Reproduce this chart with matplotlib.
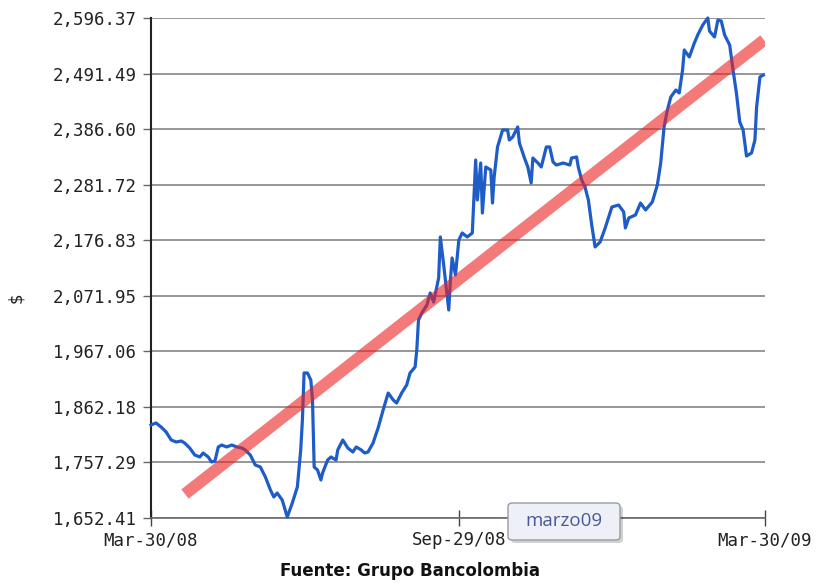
import matplotlib
matplotlib.use("Agg")
import matplotlib.pyplot as plt
from matplotlib.patches import FancyBboxPatch
from matplotlib.transforms import IdentityTransform

# ---- data (day offset from Mar-30/08, value in $) ----
days = [0, 3, 6, 9, 12, 15, 18, 20, 23, 26, 29, 31, 34, 36, 38, 40, 42, 45, 48, 51,
        54, 56, 59, 62, 65, 68, 71, 73, 75, 78, 81, 84, 87, 89, 90, 91, 93, 95, 96, 97,
        99, 101, 102, 105, 107, 110, 111, 114, 117, 120, 122, 125, 127, 129, 132, 135,
        138, 141, 144, 146, 149, 152, 154, 157, 158, 159, 161, 164, 166, 168, 171, 172,
        174, 177, 178, 179, 181, 183, 185, 188, 191, 192, 193, 194, 196, 197, 199, 202,
        203, 204, 206, 209, 212, 213, 215, 218, 219, 221, 222, 224, 226, 227, 230, 232,
        235, 237, 239, 241, 245, 249, 250, 253, 254, 256, 258, 260, 262, 264, 267, 270,
        274, 278, 281, 282, 284, 288, 291, 294, 298, 301, 303, 305, 307, 309, 312, 314,
        316, 317, 320, 323, 325, 328, 331, 332, 335, 337, 339, 341, 344, 346, 348, 350,
        352, 354, 357, 359, 360, 362, 364]
values = [1828.0, 1831.8, 1824.2, 1814.8, 1799.7, 1795.9, 1797.8, 1794.0, 1784.6, 1771.4,
          1767.6, 1775.1, 1767.6, 1758.1, 1760.0, 1786.5, 1790.2, 1786.5, 1790.2, 1786.5,
          1784.6, 1780.8, 1771.4, 1752.5, 1748.7, 1729.8, 1705.3, 1692.1, 1699.6, 1686.4,
          1654.3, 1680.8, 1711.0, 1780.8, 1837.4, 1926.2, 1926.2, 1913.0, 1875.2, 1748.7,
          1743.0, 1724.2, 1737.4, 1761.9, 1767.6, 1761.9, 1780.8, 1799.7, 1784.6, 1777.0,
          1786.5, 1780.8, 1775.1, 1777.0, 1794.0, 1822.3, 1856.3, 1888.4, 1875.2, 1869.5,
          1888.4, 1903.5, 1926.2, 1937.5, 1969.6, 2026.2, 2039.4, 2054.5, 2077.2, 2060.2,
          2105.5, 2183.0, 2130.0, 2045.1, 2101.7, 2143.3, 2111.2, 2177.3, 2190.5, 2183.0,
          2190.5, 2258.4, 2328.3, 2252.8, 2322.6, 2228.2, 2315.1, 2309.4, 2247.1, 2296.2,
          2352.9, 2384.9, 2384.9, 2366.0, 2371.7, 2390.6, 2360.4, 2341.5, 2332.1, 2315.1,
          2284.9, 2332.1, 2322.6, 2315.1, 2352.9, 2352.9, 2324.5, 2318.8, 2322.6, 2318.8,
          2332.1, 2334.0, 2315.1, 2290.5, 2277.3, 2252.8, 2205.6, 2164.1, 2173.5, 2200.0,
          2239.6, 2243.3, 2230.2, 2200.0, 2218.8, 2224.5, 2247.1, 2233.9, 2249.0, 2281.1,
          2322.6, 2390.6, 2422.7, 2447.2, 2460.4, 2454.8, 2498.2, 2536.0, 2522.8, 2549.2,
          2564.3, 2583.2, 2596.4, 2571.8, 2560.5, 2592.6, 2590.7, 2564.3, 2545.4, 2498.2,
          2454.8, 2400.0, 2384.9, 2335.8, 2341.5, 2366.0, 2428.3, 2485.0, 2488.8]

trend_days = [20.2, 364.4]
trend_values = [1697.7, 2554.8]

ytick_values = [1652.41, 1757.29, 1862.18, 1967.06, 2071.95, 2176.83,
                2281.72, 2386.60, 2491.49, 2596.37]
xtick_days = [0, 183, 365]
xtick_labels = ["Mar-30/08", "Sep-29/08", "Mar-30/09"]

# ---- figure ----
W, H = 820, 585
fig = plt.figure(figsize=(W / 100, H / 100), dpi=100)
fig.patch.set_facecolor("white")
ax = fig.add_axes([151 / W, 1 - 518 / H, (765 - 151) / W, (518 - 18) / H])

ax.set_xlim(0, 365)
ax.set_ylim(ytick_values[0], ytick_values[-1])

ax.set_yticks(ytick_values)
ax.set_yticklabels([f"{v:,.2f}" for v in ytick_values])
ax.set_xticks(xtick_days)
ax.set_xticklabels(xtick_labels)

for s in ["top", "right"]:
    ax.spines[s].set_visible(False)
ax.spines["left"].set_color("#222222")
ax.spines["left"].set_linewidth(1.5)
ax.spines["bottom"].set_color("#6a6a6a")
ax.spines["bottom"].set_linewidth(1.2)

ax.yaxis.grid(True, color="#7a7a7a", linewidth=1.1)
ax.set_axisbelow(True)

tick_font = "DejaVu Sans Mono"
ax.tick_params(axis="y", direction="out", length=6, width=1, color="#666666",
               pad=4, labelsize=12.5, labelcolor="#222222")
ax.tick_params(axis="x", direction="inout", length=11, width=1, color="#444444",
               pad=4, labelsize=12.5, labelcolor="#222222")
for lbl in ax.get_yticklabels() + ax.get_xticklabels():
    lbl.set_family(tick_font)

ax.plot(days, values, color="#1e5cc8", linewidth=2.3, zorder=3, clip_on=False)
ax.plot(trend_days, trend_values, color="#ee2222", alpha=0.6, linewidth=8.5,
        solid_capstyle="butt", zorder=4)

ax.set_ylabel("$", fontsize=12, color="#222222")
ax.yaxis.set_label_coords(-0.205, 0.44)

fig.text(410 / W, 1 - 571 / H, "Fuente: Grupo Bancolombia", ha="center", va="center",
         fontsize=12, fontweight="bold", color="#111111")

# tooltip box
bx0, by0, bw, bh = 508, H - 540, 112, 37
shadow = FancyBboxPatch((bx0 + 3, by0 - 3), bw, bh,
                        boxstyle="round,pad=0,rounding_size=4",
                        transform=IdentityTransform(), facecolor="#000000",
                        alpha=0.18, edgecolor="none", zorder=5)
box = FancyBboxPatch((bx0, by0), bw, bh, boxstyle="round,pad=0,rounding_size=4",
                     transform=IdentityTransform(), facecolor="#eef0f7",
                     edgecolor="#9a9aa4", linewidth=1.0, zorder=6)
fig.patches.extend([shadow, box])
fig.text((bx0 + bw / 2) / W, (by0 + bh / 2) / H, "marzo09", ha="center",
         va="center", fontsize=13.5, color="#4a5898", family="Open Sans", zorder=7)

fig.savefig("out.png", dpi=100, facecolor="white")
